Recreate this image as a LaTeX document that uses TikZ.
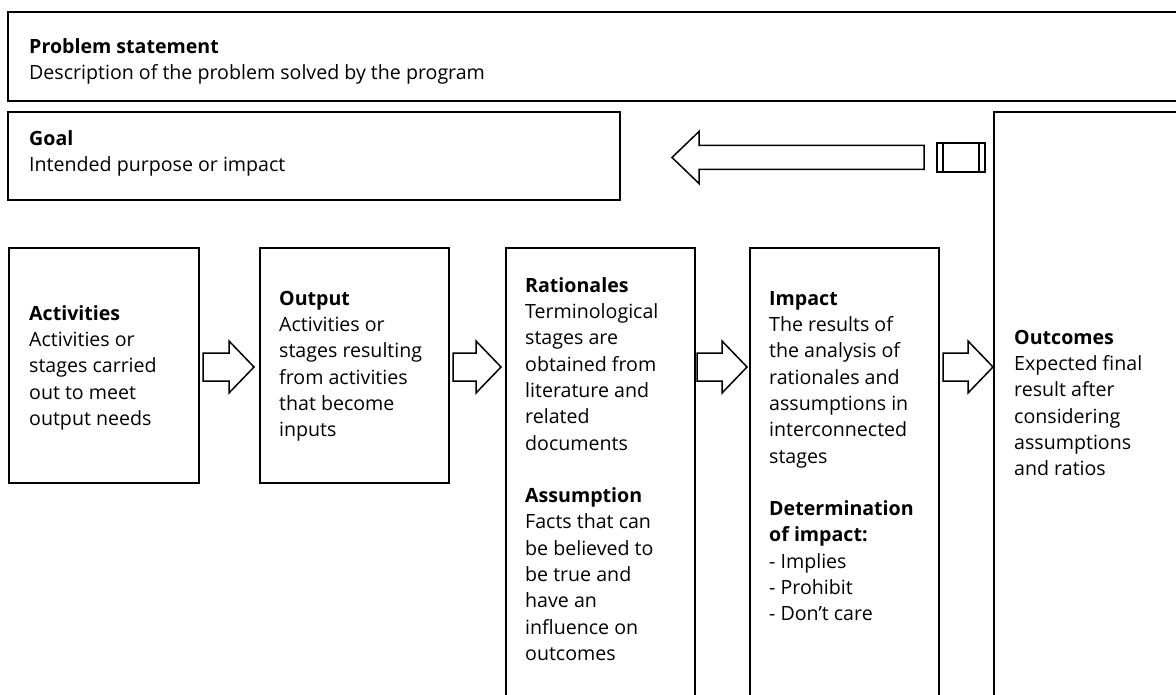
\documentclass[tikz,border=0pt]{standalone}
\usepackage{fontspec}
\setmainfont{Open Sans}
\usetikzlibrary{calc}
\newcommand\tstrut{\rule{0pt}{22pt}}
\newcommand\blockR[2]{\draw[arr] let \p1=(#1), \p2=(#2) in
  (\x1,\y1+14pt) -- (\x2-25pt,\y1+14pt) -- (\x2-25pt,\y1+26pt) -- (\x2,\y1)
  -- (\x2-25pt,\y1-26pt) -- (\x2-25pt,\y1-14pt) -- (\x1,\y1-14pt) -- cycle;}
\newcommand\blockL[2]{\draw[arr] let \p1=(#1), \p2=(#2) in
  (\x1,\y1+12pt) -- (\x2+27pt,\y1+12pt) -- (\x2+27pt,\y1+26pt) -- (\x2,\y1)
  -- (\x2+27pt,\y1-26pt) -- (\x2+27pt,\y1-12pt) -- (\x1,\y1-12pt) -- cycle;}
\begin{document}
\begin{tikzpicture}[x=1pt,y=-1pt,
  box/.style={draw, line width=1.8pt, rectangle, inner sep=0pt, outer sep=0pt, anchor=north west},
  txt/.style={anchor=north west, inner sep=0pt, align=left, font=\fontsize{19.6}{26.3}\selectfont},
  arr/.style={draw, line width=1.5pt, fill=white, line join=miter}]
\useasboundingbox (0,0) rectangle (1176,695);
\clip (0,0) rectangle (1176,695);
% boxes
\node[box, minimum width=1200pt, minimum height=89pt] (prob) at (8,12) {};
\node[box, minimum width=612pt, minimum height=88pt] (goal) at (8,112) {};
\node[box, minimum width=190pt, minimum height=235pt] (act) at (9,248) {};
\node[box, minimum width=189pt, minimum height=235pt] (out) at (260,248) {};
\node[box, minimum width=189pt, minimum height=480pt] (rat) at (506,248) {};
\node[box, minimum width=189pt, minimum height=480pt] (imp) at (750,248) {};
\node[box, minimum width=250pt, minimum height=620pt] (outc) at (994,112) {};
\node[box, line width=1.5pt, minimum width=48pt, minimum height=29pt] (proc) at (937,143) {};
\draw[line width=1.5pt] ($(proc.north west)+(6,0)$) -- ($(proc.south west)+(6,0)$);
\draw[line width=1.5pt] ($(proc.north east)+(-6,0)$) -- ($(proc.south east)+(-6,0)$);
% texts
\node[txt] (probT) at (29,31) {\tstrut\textbf{Problem statement}\\Description of the problem solved by the program};
\node[txt] (goalT) at (29,123) {\tstrut\textbf{Goal}\\Intended purpose or impact};
\node[txt] (actT) at (29,298) {\tstrut\textbf{Activities}\\Activities or\\stages carried\\out to meet\\output needs};
\node[txt] (outT) at (279,283) {\tstrut\textbf{Output}\\Activities or\\stages resulting\\from activities\\that become\\inputs};
\node[txt] (ratT) at (525,270) {\tstrut\textbf{Rationales}\\Terminological\\stages are\\obtained from\\literature and\\related\\documents\\[26.3pt]\textbf{Assumption}\\Facts that can\\be believed to\\be true and\\have an\\influence on\\outcomes};
\node[txt] (impT) at (769,283) {\tstrut\textbf{Impact}\\The results of\\the analysis of\\rationales and\\assumptions in\\interconnected\\stages\\[26.3pt]\textbf{Determination}\\\textbf{of impact:}\\- Implies\\- Prohibit\\- Don’t care};
\node[txt] (outcT) at (1014,322) {\tstrut\textbf{Outcomes}\\Expected final\\result after\\considering\\assumptions\\and ratios};
% arrows
\coordinate (ay) at (0,367);
\blockR{$(act.east |- ay)+(4,0)$}{$(out.west |- ay)+(-6,0)$}
\blockR{$(out.east |- ay)+(4,0)$}{$(rat.west |- ay)+(-5,0)$}
\blockR{$(rat.east |- ay)+(2,0)$}{$(imp.west |- ay)+(-3,0)$}
\blockR{$(imp.east |- ay)+(4,0)$}{$(outc.west |- ay)+(-1,0)$}
\blockL{$(proc.west)+(-13,0)$}{$(goal.east)+(52,0)$}
\end{tikzpicture}
\end{document}
